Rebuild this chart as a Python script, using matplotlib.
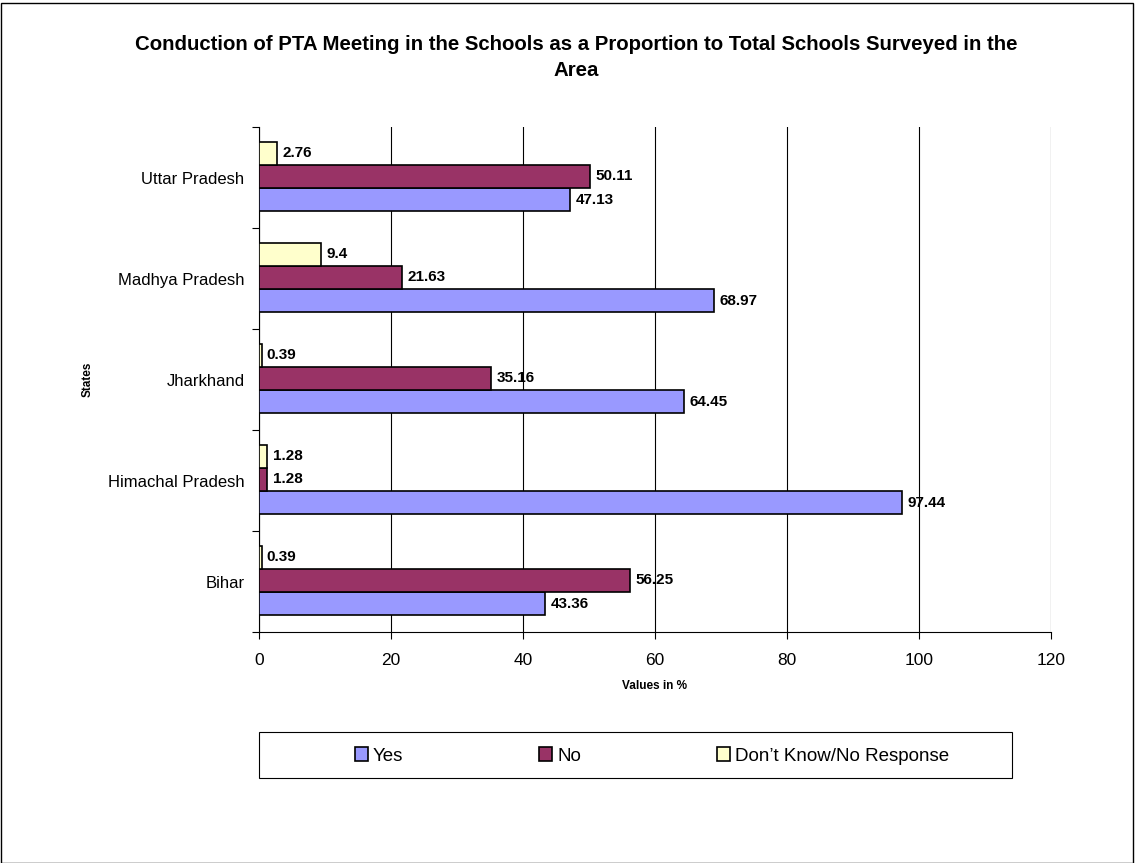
import matplotlib
matplotlib.use("Agg")
import matplotlib.pyplot as plt
from matplotlib.patches import Rectangle
import numpy as np

plt.rcParams['font.family'] = ['Liberation Sans', 'DejaVu Sans']

states = ["Bihar", "Himachal Pradesh", "Jharkhand", "Madhya Pradesh", "Uttar Pradesh"]
yes_vals = [43.36, 97.44, 64.45, 68.97, 47.13]
no_vals = [56.25, 1.28, 35.16, 21.63, 50.11]
dk_vals = [0.39, 1.28, 0.39, 9.4, 2.76]
series_names = ["Yes", "No", "Don\u2019t Know/No Response"]
colors = ["#9999FF", "#993366", "#FFFFCC"]
x_ticks = [0, 20, 40, 60, 80, 100, 120]

W, H = 1135, 863
fig = plt.figure(figsize=(W / 100, H / 100), dpi=100)
fig.patch.set_facecolor("white")
ax = fig.add_axes([259 / W, 1 - 632 / H, (1051 - 259) / W, (632 - 127) / H])

y = np.arange(len(states))
h = 0.228
for i, (vals, col, name) in enumerate(zip([yes_vals, no_vals, dk_vals], colors, series_names)):
    pos = y + (i - 1) * h + 0.01
    ax.barh(pos, vals, height=h, color=col, edgecolor="black", linewidth=1.2, label=name, zorder=3)
    for p, v in zip(pos, vals):
        ax.text(v + 0.8, p, f"{v:g}", va="center", ha="left", fontsize=11,
                fontweight="bold", zorder=4)

ax.set_xlim(0, 120)
ax.set_ylim(-0.5, len(states) - 0.5)
ax.set_xticks(x_ticks)
ax.set_xticklabels([str(t) for t in x_ticks], fontsize=12.5)
ax.xaxis.grid(True, color="black", linewidth=0.8, zorder=0)
ax.set_yticks(y)
ax.set_yticklabels(states, fontsize=12)
ax.tick_params(axis="y", length=0, pad=10.5)
ax.set_yticks(np.arange(-0.5, len(states), 1), minor=True)
ax.tick_params(axis="y", which="minor", length=5, width=0.8)
ax.tick_params(axis="x", length=5, width=0.8, pad=10)
for s in ["top", "right"]:
    ax.spines[s].set_visible(False)
ax.spines["left"].set_linewidth(0.8)
ax.spines["bottom"].set_linewidth(0.8)
ax.set_xlabel("Values in %", fontsize=8.5, fontweight="bold", labelpad=9)
ax.set_ylabel("States", fontsize=8.5, fontweight="bold", labelpad=10)

# title: first line sized to span the chart width
title = fig.text(576 / W, 1 - 57.5 / H,
                 "Conduction of PTA Meeting in the Schools as a Proportion to Total Schools Surveyed in the\nArea",
                 ha="center", va="center", fontsize=12, fontweight="bold", linespacing=1.45)
fig.canvas.draw()
tw = title.get_window_extent(fig.canvas.get_renderer()).width
title.set_fontsize(12 * 880 / tw)

# legend box
fig.add_artist(Rectangle((259 / W, 1 - 778 / H), (1012 - 259) / W, 46 / H,
                         transform=fig.transFigure, facecolor="white", edgecolor="black", linewidth=0.8))
handles, labels = ax.get_legend_handles_labels()
leg_fs = 13.5
fs_px = leg_fs * 100 / 72
fig.legend(handles, labels, loc="center left", bbox_to_anchor=(355 / W, 1 - 756 / H),
           ncol=3, frameon=False, fontsize=leg_fs, borderpad=0, borderaxespad=0,
           handlelength=13 / fs_px, handleheight=13 / fs_px,
           handletextpad=5 / fs_px, columnspacing=136 / fs_px)

# outer border of the figure
fig.add_artist(Rectangle((0.001, 0.0), 0.997, 0.996, transform=fig.transFigure,
                         facecolor="none", edgecolor="black", linewidth=1.0))

fig.savefig("out.png", dpi=100)
